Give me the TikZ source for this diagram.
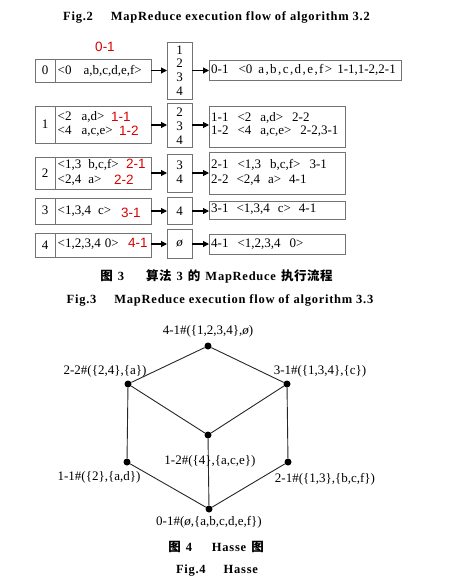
\documentclass[tikz,border=0pt]{standalone}
\usepackage{fontspec}
\setmainfont{Liberation Serif}
\newfontfamily\redfont{Liberation Sans}
\newfontfamily\capfont[LetterSpace=6]{Liberation Serif}
\newfontfamily\wideserif[LetterSpace=11]{Liberation Serif}
\newfontfamily\cjk[LetterSpace=4]{Noto Sans CJK SC}
\usetikzlibrary{arrows.meta}
\newcommand{\gp}[1]{\hspace{#1pt}}
\begin{document}
\begin{tikzpicture}[x=1pt,y=-1pt,
  box/.style={draw=black!55,line width=0.8pt},
  txt/.style={inner sep=0pt,anchor=west,font=\fontsize{13}{14}\selectfont},
  ctxt/.style={inner sep=0pt,font=\fontsize{13}{13.7}\selectfont,align=center},
  redlbl/.style={inner sep=0pt,anchor=west,text=red!85!black,font=\redfont\fontsize{13.5}{14}\selectfont},
  arr/.style={-{Triangle[length=6pt,width=6pt]},line width=1.1pt},
  capt/.style={inner sep=0pt,font=\capfont\bfseries\fontsize{12.5}{14}\selectfont},
  hdot/.style={circle,fill=black,inner sep=0pt,minimum size=7pt},
  hedge/.style={line width=0.9pt,draw=black!85},
  hl/.style={inner sep=0pt,font=\fontsize{13}{14}\selectfont}]
\useasboundingbox (0,0) rectangle (457,584);
% captions
\node[capt] (c2) at (216.5,17) {Fig.2\gp{18}MapReduce execution flow of algorithm 3.2};
% ---- row 0
\draw[box] (35,59) rectangle (151,82); \draw[box] (55,59) -- (55,82);
\node[ctxt] (k0) at (45,70.5) {0};
\node[txt] (l0) at (57.5,70.5) {<0\gp{12}a,b,c,d,e,f>};
\node[redlbl,anchor=center] (r0) at (105,47) {0-1};
\draw[box] (167,42) rectangle (192,99);
\node[ctxt] (m0) at (179.5,70.5) {1\\2\\3\\4};
\draw[box] (209,60) rectangle (401,80);
\node[txt] (o0) at (211,70) {0-1\gp{10}<0\gp{6}{\wideserif a,b,c,d,e,f>}\gp{5}1-1,1-2,2-1};
\coordinate (a0) at (151,70.5); \coordinate (b0) at (167,70.5);
\coordinate (c0) at (192,70.5); \coordinate (d0) at (209,70.5);
\draw[arr] (a0) -- (b0); \draw[arr] (c0) -- (d0);
% ---- row 1
\draw[box] (35,106) rectangle (151,143); \draw[box] (55,106) -- (55,143);
\node[ctxt] (k1) at (45,124.5) {1};
\node[txt] (l1a) at (57.5,117) {<2\gp{10}a,d>};
\node[txt] (l1b) at (57.5,131) {<4\gp{10}a,c,e>};
\node[redlbl] (r1a) at (111,117) {1-1};
\node[redlbl] (r1b) at (119,131) {1-2};
\draw[box] (167,103) rectangle (192,147);
\node[ctxt] (m1) at (179.5,126) {2\\3\\4};
\draw[box] (209,106) rectangle (345,147);
\node[txt] (o1a) at (211,118) {1-1\gp{9}<2\gp{9}a,d>\gp{9}2-2};
\node[txt] (o1b) at (211,131.5) {1-2\gp{9}<4\gp{9}a,c,e>\gp{9}2-2,3-1};
\coordinate (a1) at (151,125); \coordinate (b1) at (167,125);
\coordinate (c1) at (192,125); \coordinate (d1) at (209,125);
\draw[arr] (a1) -- (b1); \draw[arr] (c1) -- (d1);
% ---- row 2
\draw[box] (35,157) rectangle (151,189); \draw[box] (55,157) -- (55,189);
\node[ctxt] (k2) at (45,173) {2};
\node[txt] (l2a) at (57.5,165) {<1,3\gp{7}b,c,f>};
\node[txt] (l2b) at (57.5,180) {<2,4\gp{7}a>};
\node[redlbl] (r2a) at (126,164) {2-1};
\node[redlbl] (r2b) at (114,180) {2-2};
\draw[box] (167,154) rectangle (192,192);
\node[ctxt] (m2) at (179.5,172.5) {3\\4};
\draw[box] (209,152) rectangle (345,194);
\node[txt] (o2a) at (211,165) {2-1\gp{9}<1,3\gp{9}b,c,f>\gp{9}3-1};
\node[txt] (o2b) at (211,180) {2-2\gp{8}<2,4\gp{8}a>\gp{8}4-1};
\coordinate (a2) at (151,173); \coordinate (b2) at (167,173);
\coordinate (c2a) at (192,173); \coordinate (d2) at (209,173);
\draw[arr] (a2) -- (b2); \draw[arr] (c2a) -- (d2);
% ---- row 3
\draw[box] (35,198) rectangle (151,224); \draw[box] (55,198) -- (55,224);
\node[ctxt] (k3) at (45,210) {3};
\node[txt] (l3) at (57.5,211) {<1,3,4\gp{7}c>};
\node[redlbl] (r3) at (121,213) {3-1};
\draw[box] (167,197) rectangle (192,224);
\node[ctxt] (m3) at (179.5,211) {4};
\draw[box] (209,201) rectangle (345,219);
\node[txt] (o3) at (211,209.5) {3-1\gp{8}<1,3,4\gp{8}c>\gp{8}4-1};
\coordinate (a3) at (151,211); \coordinate (b3) at (167,211);
\coordinate (c3) at (192,211); \coordinate (d3) at (209,211);
\draw[arr] (a3) -- (b3); \draw[arr] (c3) -- (d3);
% ---- row 4
\draw[box] (35,233) rectangle (151,257); \draw[box] (55,233) -- (55,257);
\node[ctxt] (k4) at (45,245) {4};
\node[txt] (l4) at (57.5,244.5) {<1,2,3,4\gp{4}0>};
\node[redlbl] (r4) at (128,243) {4-1};
\draw[box] (167,229) rectangle (192,258);
\node[ctxt] (m4) at (179.5,244) {\itshape ø};
\draw[box] (209,234) rectangle (345,254);
\node[txt] (o4) at (211,244) {4-1\gp{9}<1,2,3,4\gp{9}0>};
\coordinate (a4) at (151,244); \coordinate (b4) at (167,244);
\coordinate (c4) at (192,244); \coordinate (d4) at (209,244);
\draw[arr] (a4) -- (b4); \draw[arr] (c4) -- (d4);
% captions
\node[capt] (c3c) at (216.5,276) {{\cjk\bfseries 图}\gp{5}3\gp{22}{\cjk\bfseries 算法}\gp{5}3\gp{5}{\cjk\bfseries 的}\gp{5}MapReduce\gp{5}{\cjk\bfseries 执行流程}};
\node[capt] (c3f) at (220,300) {Fig.3\gp{18}MapReduce execution flow of algorithm 3.3};
% ---- Hasse
\node[hdot] (t) at (208,346) {};
\node[hdot] (ul) at (128,384) {};
\node[hdot] (ur) at (287,384) {};
\node[hdot] (cc) at (208,435) {};
\node[hdot] (ll) at (127,462) {};
\node[hdot] (lr) at (288,462) {};
\node[hdot] (bt) at (209,509) {};
\draw[hedge] (t) -- (ul); \draw[hedge] (t) -- (ur);
\draw[hedge] (ul) -- (cc); \draw[hedge] (ur) -- (cc);
\draw[hedge] (ul) -- (ll); \draw[hedge] (ur) -- (lr);
\draw[hedge] (cc) -- (bt); \draw[hedge] (ll) -- (bt); \draw[hedge] (lr) -- (bt);
\node[hl] (tl) at (208,331) {4-1\#(\{1,2,3,4\},{\itshape ø})};
\node[hl] (ull) at (105,371) {2-2\#(\{2,4\},\{a\})};
\node[hl] (url) at (320,371) {3-1\#(\{1,3,4\},\{c\})};
\node[hl] (ccl) at (210,461) {1-2\#(\{4\},\{a,c,e\})};
\node[hl] (lll) at (99,477) {1-1\#(\{2\},\{a,d\})};
\node[hl] (lrl) at (325,479) {2-1\#(\{1,3\},\{b,c,f\})};
\node[hl] (btl) at (209,522) {0-1\#({\itshape ø},\{a,b,c,d,e,f\})};
\node[capt] (c4c) at (216,547) {{\cjk\bfseries 图}\gp{5}4\gp{20}Hasse\gp{5}{\cjk\bfseries 图}};
\node[capt] (c4f) at (217,571) {Fig.4\gp{18}Hasse};
\end{tikzpicture}
\end{document}
